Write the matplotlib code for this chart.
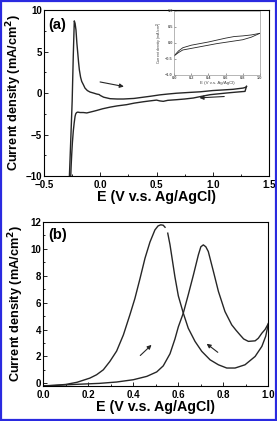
import matplotlib
matplotlib.use("Agg")
import numpy as np
import matplotlib.pyplot as plt
from matplotlib.ticker import MultipleLocator
from matplotlib.patches import Rectangle

# ---- panel (a): cyclic voltammogram ----
a_up_E = [-0.275, -0.262, -0.25, -0.24, -0.231, -0.224, -0.216, -0.208, -0.2, -0.193, -0.186, -0.175,
          -0.165, -0.15, -0.136, -0.115, -0.091, -0.06, -0.032, -0.01, 0.0, 0.03, 0.087, 0.15, 0.205,
          0.3, 0.383, 0.45, 0.53, 0.6, 0.68, 0.8, 0.89, 1.0, 1.1, 1.18, 1.27, 1.295, 1.30]
a_up_I = [-10.2, -5.5, -1.0, 4.5, 8.7, 8.4, 7.6, 6.0, 4.8, 3.7, 2.8, 1.9,
          1.4, 1.0, 0.6, 0.3, 0.12, 0.0, -0.12, -0.18, -0.29, -0.5, -0.68, -0.72, -0.72,
          -0.65, -0.5, -0.38, -0.22, -0.12, -0.02, 0.08, 0.15, 0.3, 0.38, 0.45, 0.6, 0.7, 0.8]
a_dn_E = [1.30, 1.287, 1.2, 1.12, 0.976, 0.9, 0.827, 0.75, 0.68, 0.6, 0.56, 0.53, 0.5, 0.44, 0.383,
          0.3, 0.235, 0.15, 0.087, 0.02, -0.032, -0.06, -0.09, -0.12, -0.15, -0.18, -0.2, -0.21,
          -0.218, -0.224, -0.232, -0.24, -0.248, -0.254, -0.259, -0.263]
a_dn_I = [0.8, 0.2, 0.1, 0.0, -0.2, -0.4, -0.6, -0.72, -0.8, -0.88, -1.0, -0.95, -0.85, -0.95, -1.05,
          -1.22, -1.4, -1.55, -1.7, -1.9, -2.1, -2.2, -2.3, -2.4, -2.35, -2.35, -2.3, -2.35,
          -2.5, -2.8, -3.6, -4.6, -6.0, -7.4, -8.8, -10.2]

# inset (zoom of 0..1 V region)
in_E = [0.0, 0.05, 0.1, 0.2, 0.3, 0.4, 0.5, 0.6, 0.7, 0.8, 0.9, 1.0]
in_up = [-0.4, -0.25, -0.15, -0.07, -0.02, 0.03, 0.09, 0.15, 0.2, 0.22, 0.25, 0.3]
in_dn = [-0.4, -0.3, -0.22, -0.17, -0.12, -0.07, -0.02, 0.02, 0.06, 0.1, 0.18, 0.3]

# ---- panel (b): methanol oxidation, forward and reverse scans ----
b_fw_E = [0.0, 0.05, 0.1, 0.15, 0.207, 0.237, 0.267, 0.296, 0.326, 0.356, 0.385, 0.407, 0.43, 0.452,
          0.474, 0.496, 0.51, 0.522, 0.533, 0.541, 0.547, 0.553, 0.563, 0.574, 0.585, 0.6, 0.622,
          0.644, 0.674, 0.704, 0.741, 0.778, 0.815, 0.852, 0.896, 0.941, 0.971, 0.988, 1.0]
b_fw_I = [-0.18, -0.15, -0.08, 0.08, 0.39, 0.64, 1.01, 1.63, 2.4, 3.6, 5.1, 6.3, 7.8, 9.3,
          10.5, 11.4, 11.7, 11.78, 11.75, 11.6, np.nan, 11.16, 10.3, 9.1, 7.9, 6.5, 5.22,
          4.1, 3.12, 2.38, 1.75, 1.38, 1.14, 1.14, 1.38, 2.0, 2.75, 3.5, 4.45]
b_rv_E = [1.0, 0.985, 0.971, 0.955, 0.941, 0.911, 0.89, 0.874, 0.856, 0.837, 0.807, 0.778, 0.756,
          0.733, 0.722, 0.711, 0.7, 0.689, 0.667, 0.644, 0.622, 0.6, 0.585, 0.563, 0.533, 0.504,
          0.46, 0.4, 0.326, 0.25, 0.15, 0.05, 0.0]
b_rv_I = [4.45, 4.0, 3.73, 3.35, 3.16, 3.12, 3.3, 3.6, 3.95, 4.35, 5.34, 6.83, 8.3,
          9.8, 10.15, 10.29, 10.15, 9.55, 8.06, 6.58, 5.22, 4.2, 3.3, 2.2, 1.3, 0.85,
          0.52, 0.27, 0.1, 0.0, -0.07, -0.15, -0.2]

plt.rcParams['font.family'] = ['Liberation Sans', 'DejaVu Sans']
plt.rcParams['font.weight'] = 'bold'
line_col = '#262626'

fig = plt.figure(figsize=(2.77, 4.21), dpi=100)


def style(ax, xmin, ymin, fs=7):
    ax.tick_params(direction='in', which='both', labelsize=fs, width=0.6)
    ax.tick_params(axis='x', pad=3)
    ax.tick_params(axis='y', pad=1.5)
    ax.tick_params(which='major', length=3)
    ax.tick_params(which='minor', length=1.6)
    ax.xaxis.set_minor_locator(MultipleLocator(xmin))
    ax.yaxis.set_minor_locator(MultipleLocator(ymin))
    for s in ax.spines.values():
        s.set_linewidth(0.8)
    for t in ax.get_xticklabels() + ax.get_yticklabels():
        t.set_fontweight('bold')


def arrow(ax, start, end):
    ax.annotate('', xy=end, xytext=start,
                arrowprops=dict(arrowstyle='-|>', color=line_col, lw=0.8, mutation_scale=6))


# panel (a)
ax1 = fig.add_axes([0.159, 0.582, 0.812, 0.394])
ax1.plot(a_up_E, a_up_I, color=line_col, lw=1.0)
ax1.plot(a_dn_E, a_dn_I, color=line_col, lw=1.0)
ax1.set_xlim(-0.5, 1.5)
ax1.set_ylim(-10, 10)
ax1.set_xticks([-0.5, 0.0, 0.5, 1.0, 1.5])
ax1.set_yticks([-10, -5, 0, 5, 10])
style(ax1, 0.25, 2.5)
ax1.set_xlabel('E (V v.s. Ag/AgCl)', fontsize=10.3, fontweight='bold', labelpad=0)
ax1.set_ylabel('Current density (mA/cm$^\\mathbf{2}$)', fontsize=9.2, fontweight='bold', labelpad=1)
ax1.text(0.018, 0.95, '(a)', transform=ax1.transAxes, fontsize=10.5, fontweight='bold', va='top')
arrow(ax1, (-0.026, 1.4), (0.234, 0.72))
arrow(ax1, (1.127, -0.4), (0.857, -0.6))

# inset
axi = fig.add_axes([0.629, 0.822, 0.309, 0.152])
axi.plot(in_E, in_up, color=line_col, lw=0.6)
axi.plot(in_E, in_dn, color=line_col, lw=0.6)
axi.set_xlim(0, 1.0)
axi.set_ylim(-1.0, 1.0)
axi.set_xticks([0.0, 0.2, 0.4, 0.6, 0.8, 1.0])
axi.set_yticks([-1.0, -0.5, 0.0, 0.5, 1.0])
axi.tick_params(direction='in', labelsize=2.8, length=1.2, width=0.4, pad=1, colors='#555555')
for s in axi.spines.values():
    s.set_linewidth(0.5)
    s.set_color('#999999')
axi.set_xlabel('E (V v.s. Ag/AgCl)', fontsize=3.2, labelpad=0.5, color='#444444')
axi.set_ylabel('Current density (mA/cm$^2$)', fontsize=2.6, labelpad=0.5, color='#444444')

# panel (b)
ax2 = fig.add_axes([0.156, 0.083, 0.813, 0.390])
ax2.plot(b_fw_E, b_fw_I, color=line_col, lw=1.0)
ax2.plot(b_rv_E, b_rv_I, color=line_col, lw=1.0)
ax2.set_xlim(0, 1.0)
ax2.set_ylim(-0.2, 12)
ax2.set_xticks([0.0, 0.2, 0.4, 0.6, 0.8, 1.0])
ax2.set_yticks([0, 2, 4, 6, 8, 10, 12])
style(ax2, 0.1, 1)
ax2.set_xlabel('E (V v.s. Ag/AgCl)', fontsize=10.3, fontweight='bold', labelpad=0)
ax2.set_ylabel('Current density (mA/cm$^\\mathbf{2}$)', fontsize=9.2, fontweight='bold', labelpad=3)
ax2.text(0.022, 0.965, '(b)', transform=ax2.transAxes, fontsize=10.5, fontweight='bold', va='top')
arrow(ax2, (0.422, 1.93), (0.49, 3.0))
arrow(ax2, (0.785, 2.18), (0.716, 3.07))

# blue frame around the figure
fig.patches.append(Rectangle((0.003, 0.002), 0.994, 0.996, transform=fig.transFigure,
                             fill=False, edgecolor='#2a2ae0', lw=1.6))

fig.savefig('out.png', dpi=100)
